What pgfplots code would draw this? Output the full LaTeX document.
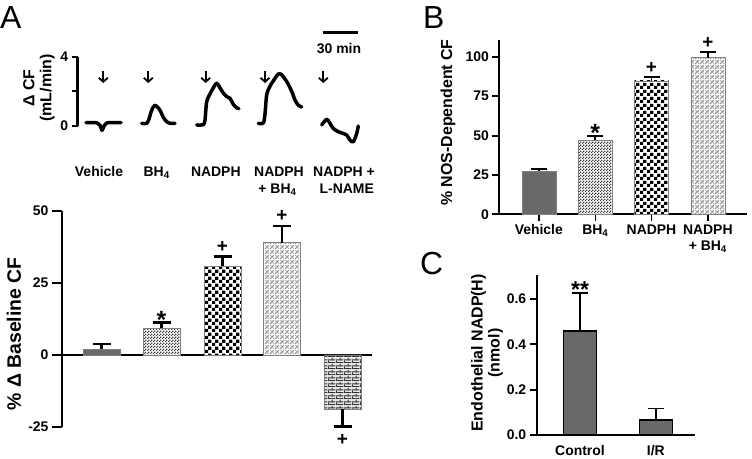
\documentclass[border=0pt]{standalone}
\usepackage{pgfplots}
\pgfplotsset{compat=1.18}
\usepackage{fontspec}
\setmainfont{Liberation Sans}
\usetikzlibrary{patterns,patterns.meta,arrows.meta}
\newcommand\lf{\fontsize{14}{16}\selectfont\bfseries}
\newcommand\af{\fontsize{16}{17}\selectfont\bfseries}
\newcommand\sigf{\fontsize{19}{20}\selectfont\bfseries}
\newcommand\astf{\fontsize{25}{25}\selectfont\bfseries}
\definecolor{bargray}{RGB}{105,105,105}
\tikzdeclarepattern{
  name=finechecker, type=uncolored,
  bounding box={(0,0) and (6.6bp,6.6bp)}, tile size={(6.6bp,6.6bp)},
  code={\fill (0,0) rectangle (3.3bp,3.3bp); \fill (3.3bp,3.3bp) rectangle (6.6bp,6.6bp);}}
\tikzdeclarepattern{
  name=tinychecker, type=uncolored,
  bounding box={(0,0) and (3bp,3bp)}, tile size={(3bp,3bp)},
  code={\fill (0,0) rectangle (1.5bp,1.5bp); \fill (1.5bp,1.5bp) rectangle (3bp,3bp);}}
\tikzdeclarepattern{
  name=diamonds, type=uncolored,
  bounding box={(0,0) and (5bp,5bp)}, tile size={(5bp,5bp)},
  code={\fill (0,0) rectangle (1.6bp,1.6bp); \fill (2.5bp,2.5bp) rectangle (4.1bp,4.1bp);
        \pgfsetlinewidth{0.6bp}\draw (0,0) -- (5bp,5bp); \draw (0,5bp) -- (5bp,0);}}
\tikzdeclarepattern{
  name=smallbricks, type=uncolored,
  bounding box={(0,0) and (8bp,6bp)}, tile size={(8bp,6bp)},
  code={\fill (0,0) rectangle (8bp,1.1bp); \fill (0,3bp) rectangle (8bp,4.1bp);
        \fill (0,0) rectangle (1.1bp,3bp); \fill (4bp,3bp) rectangle (5.1bp,6bp);}}
\begin{document}
\begin{tikzpicture}
\useasboundingbox (0,0) rectangle (752bp,-459bp);
\pgfplotsset{
  every axis/.append style={scale only axis, enlargelimits=false, clip=false,
    tick style={line width=2bp, black}, tick align=outside,
    ticklabel style={font=\lf}, tick pos=left},
}
% ---------- Panel A traces ----------
\coordinate (At) at (77.7bp,-126bp);
\begin{axis}[at={(At)}, anchor=south west, width=294.3bp, height=69.3bp,
  xmin=77.7, xmax=372, ymin=0, ymax=4,
  axis y line*=left, axis x line=none,
  axis line style={line width=2.5bp},
  ytick={0,2,4}, yticklabels={0,,4}, major tick length=6bp]
\addplot[black, line width=3.5bp, smooth, tension=0.5, line cap=round, line join=round] coordinates {
(86,0.2)(92,0.2)(97,0.18)(100,0.05)(102,-0.25)(104,0.0)(107,0.18)(112,0.2)(118,0.2)(121,0.2)};
\addplot[black, line width=3.5bp, smooth, tension=0.5, line cap=round, line join=round] coordinates {
(141.7,0.15)(146.7,0.15)(149,0.4)(151,0.8)(153.3,1.1)(155,1.2)(158.3,1.05)(161,0.8)(163.3,0.5)(166.7,0.25)(170,0.15)(175,0.15)};
\addplot[black, line width=3.5bp, smooth, tension=0.5, line cap=round, line join=round] coordinates {
(196.7,0.06)(203.3,0.08)(205,0.35)(206.7,1.4)(210,1.85)(213.3,2.2)(216.7,2.47)(220,2.2)(223.3,1.9)(226.7,1.7)(230,1.6)(233.3,1.25)(236.7,1.05)(239,1.0)};
\addplot[black, line width=3.5bp, smooth, tension=0.5, line cap=round, line join=round] coordinates {
(258.3,0.15)(263.3,0.18)(265,0.7)(266.7,1.8)(270,2.3)(273.3,2.6)(278.3,3.0)(281.7,2.95)(286.7,2.57)(291.7,2.0)(295,1.5)(298.3,1.2)(301.7,1.1)};
\addplot[black, line width=3.5bp, smooth, tension=0.5, line cap=round, line join=round] coordinates {
(321.7,0.06)(326.7,0.39)(330,0.15)(333.3,-0.14)(338.3,-0.33)(343.3,-0.43)(346.7,-0.52)(350,-0.81)(353.3,-0.91)(356.7,-0.43)(358.3,0.0)};
\end{axis}
% ---------- Panel A bars ----------
\coordinate (Ab) at (62bp,-426.7bp);
\begin{axis}[at={(Ab)}, anchor=south west, width=310bp, height=215.7bp,
  xmin=62, xmax=372, ymin=-25, ymax=50,
  axis y line*=left, axis x line*=middle, xtick=\empty,
  axis line style={line width=2.5bp},
  ytick={-25,0,25,50}, yticklabels={-25,0,25,50}, major tick length=10bp,
  ybar, bar width=37, bar shift=0pt,
  error bars/error bar style={line width=2.5bp, black},
  error bars/error mark options={rotate=90, line width=2.5bp, mark size=9bp, black}]
\addplot[fill=bargray, draw=gray, error bars/.cd, y dir=plus, y explicit] coordinates {(101.5,2.1) +- (0,1.7)};
\addplot[draw=gray, fill=white, postaction={pattern color=gray!45!black, pattern=tinychecker}, error bars/.cd, y dir=plus, y explicit] coordinates {(161.5,9.3) +- (0,1.9)};
\addplot[draw=gray, fill=white, postaction={pattern color=black, pattern=finechecker}, error bars/.cd, y dir=plus, y explicit] coordinates {(222.5,30.8) +- (0,3.3)};
\addplot[draw=gray, fill=white, postaction={pattern color=gray!85, pattern=diamonds}, error bars/.cd, y dir=plus, y explicit] coordinates {(282,39.0) +- (0,5.8)};
\addplot[draw=gray, fill=gray!20, postaction={pattern color=gray!40!black, pattern=smallbricks}, error bars/.cd, y dir=minus, y explicit] coordinates {(342.5,-18.75) +- (0,6.15)};
\node[font=\astf] at (axis cs:161.5,12.0) {*};
\node[font=\sigf] at (axis cs:222.5,37.6) {+};
\node[font=\sigf] at (axis cs:282,48.3) {+};
\node[font=\sigf] at (axis cs:342.5,-29.5) {+};
\end{axis}
% ---------- Panel B ----------
\coordinate (Bo) at (499.3bp,-214.3bp);
\begin{axis}[at={(Bo)}, anchor=south west, width=247.4bp, height=174.3bp,
  xmin=499.3, xmax=746.7, ymin=0, ymax=110.6,
  axis y line*=left, axis x line*=bottom,
  axis line style={line width=2bp},
  xtick={538.8,595.3,651.5,707.8},
  xticklabels={Vehicle, BH\textsubscript{4}, NADPH, NADPH\\+ BH\textsubscript{4}},
  xticklabel style={align=center},
  x tick style={line width=1.5bp}, xtick align=outside,
  ytick={0,25,50,75,100}, yticklabels={0,25,50,75,100}, major tick length=7bp,
  ybar, bar width=34, bar shift=0pt,
  error bars/error bar style={line width=1.8bp, black},
  error bars/error mark options={rotate=90, line width=1.8bp, mark size=8bp, black}]
\addplot[fill=bargray, draw=gray, error bars/.cd, y dir=plus, y explicit] coordinates {(538.8,27.5) +- (0,1.2)};
\addplot[draw=gray, fill=white, postaction={pattern color=gray!45!black, pattern=tinychecker}, error bars/.cd, y dir=plus, y explicit] coordinates {(595.3,47.1) +- (0,2.4)};
\addplot[draw=gray, fill=white, postaction={pattern color=black, pattern=finechecker}, error bars/.cd, y dir=plus, y explicit] coordinates {(651.5,84.6) +- (0,2.5)};
\addplot[draw=gray, fill=white, postaction={pattern color=gray!85, pattern=diamonds}, error bars/.cd, y dir=plus, y explicit] coordinates {(707.8,99.4) +- (0,3.4)};
\node[font=\astf] at (axis cs:595.3,51.8) {*};
\node[font=\sigf] at (axis cs:651.5,92.6) {+};
\node[font=\sigf] at (axis cs:707.8,108.9) {+};
\end{axis}
% ---------- Panel C ----------
\coordinate (Co) at (536.7bp,-435bp);
\begin{axis}[at={(Co)}, anchor=south west, width=158.3bp, height=160bp,
  xmin=536.7, xmax=695, ymin=0, ymax=0.7064,
  axis y line*=left, axis x line*=bottom,
  axis line style={line width=2bp},
  xtick={580,655.8}, xticklabels={Control, I/R}, x tick style={draw=none},
  ytick={0,0.2,0.4,0.6}, yticklabels={0.0,0.2,0.4,0.6}, major tick length=7bp,
  ybar, bar width=33, bar shift=0pt,
  error bars/error bar style={line width=1.5bp, black},
  error bars/error mark options={rotate=90, line width=1.5bp, mark size=8bp, black}]
\addplot[fill=bargray, draw=black, line width=1.5bp, error bars/.cd, y dir=plus, y explicit] coordinates {(580,0.459) +- (0,0.167)};
\addplot[fill=bargray, draw=black, line width=1.5bp, error bars/.cd, y dir=plus, y explicit] coordinates {(655.8,0.066) +- (0,0.052)};
\node[font=\fontsize{23}{23}\selectfont\bfseries] at (axis cs:580,0.642) {**};
\end{axis}
% ---------- texts ----------
\node[anchor=base west, inner sep=0] at (0bp,-28bp) {\fontsize{32}{32}\selectfont A};
\node[anchor=base west, inner sep=0] at (423bp,-28bp) {\fontsize{32}{32}\selectfont B};
\node[anchor=base west, inner sep=0] at (420bp,-274bp) {\fontsize{32}{32}\selectfont C};
\node[font=\af, rotate=90, align=center] at (39bp,-88bp) {Δ CF\\(mL/min)};
\node[font=\fontsize{19.5}{20}\selectfont\bfseries, rotate=90] at (14bp,-334bp) {\% Δ Baseline CF};
\node[font=\af, rotate=90] at (448bp,-122.5bp) {\% NOS-Dependent CF};
\node[font=\af, rotate=90, align=center] at (487bp,-353bp) {Endothelial NADP(H)\\(nmol)};
\node[font=\lf, anchor=base] at (99bp,-176.7bp) {Vehicle};
\node[font=\lf, anchor=base] at (156.7bp,-176.7bp) {BH\textsubscript{4}};
\node[font=\lf, anchor=base] at (215.8bp,-176.7bp) {NADPH};
\node[font=\lf, anchor=base] at (279bp,-176.7bp) {NADPH};
\node[font=\lf, anchor=base] at (344bp,-176.7bp) {NADPH +};
\node[font=\lf, anchor=base] at (277.5bp,-193bp) {+ BH\textsubscript{4}};
\node[font=\lf, anchor=base] at (346.7bp,-193bp) {L-NAME};
\draw[line width=3bp] (323bp,-32.3bp) -- (358bp,-32.3bp);
\node[font=\lf, anchor=base] at (339bp,-53bp) {30 min};
\foreach \xx in {103.3,148.3,205.7,265,323.3}{
  \draw[line width=1.8bp, -{Straight Barb[length=4bp,width=9bp]}] (\xx bp,-71bp) -- (\xx bp,-83bp);
}
\end{tikzpicture}
\end{document}
